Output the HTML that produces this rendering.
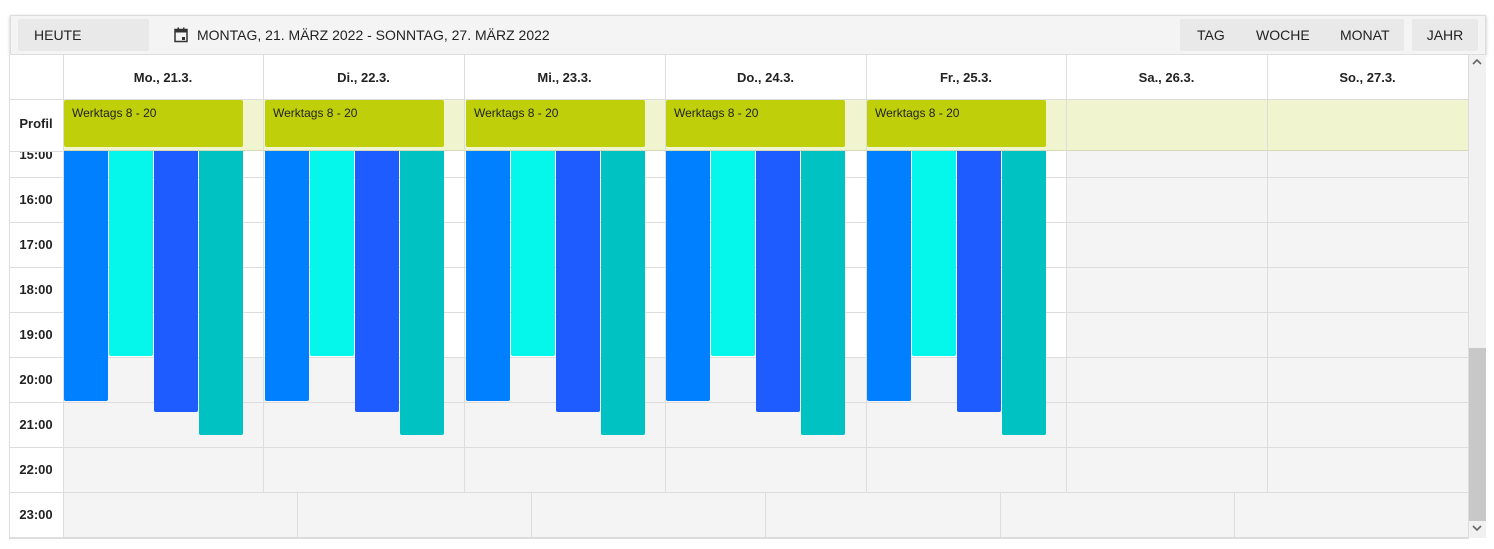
<!DOCTYPE html>
<html><head><meta charset="utf-8"><style>
*{box-sizing:border-box;margin:0;padding:0}
body{width:1494px;height:549px;background:#fff;position:relative;overflow:hidden;font-family:"Liberation Sans",Arial,sans-serif;color:#222}
.a{position:absolute}
.tb{left:10px;top:15px;width:1476px;height:40px;background:#f4f4f4;border:1px solid #ddd;box-shadow:0 1px 3px rgba(0,0,0,.25)}
.btn{position:absolute;top:3px;height:32px;background:#e9e9e9;font-size:14px;line-height:32px;color:#222;border-radius:2px}
.vl{position:absolute;width:1px;background:#ddd}
.t{position:absolute;left:9px;width:54px;text-align:center;font-size:13px;font-weight:bold;line-height:45px}
.dh{position:absolute;top:56px;height:43px;line-height:43px;text-align:center;font-size:13px;font-weight:bold}
.ev{position:absolute;top:100px;width:179px;height:47px;background:#bfd00b;border-radius:2px;font-size:12px;padding:6px 8px}
.b{position:absolute;top:151px;width:44px;border-radius:0 0 2px 2px}
</style></head><body>
<div class="a tb">
 <div class="btn" style="left:7px;width:131px;padding-left:16px">HEUTE</div>
 <svg class="a" style="left:163px;top:11px" width="14" height="16" viewBox="0 0 14 16"><rect x="1" y="2.5" width="12" height="12" fill="none" stroke="#333" stroke-width="1.5"/><rect x="1" y="2.5" width="12" height="3" fill="#333"/><rect x="3.5" y="0.5" width="1.5" height="3" fill="#333"/><rect x="9" y="0.5" width="1.5" height="3" fill="#333"/><rect x="8" y="10" width="3" height="3" fill="#333"/></svg>
 <div class="a" style="left:186px;top:3px;line-height:32px;font-size:14px">MONTAG, 21. MÄRZ 2022 - SONNTAG, 27. MÄRZ 2022</div>
 <div class="btn" style="left:1169px;width:224px"></div>
 <div class="a" style="left:1186px;top:3px;line-height:32px;font-size:14px">TAG</div>
 <div class="a" style="left:1245px;top:3px;line-height:32px;font-size:14px">WOCHE</div>
 <div class="a" style="left:1329px;top:3px;line-height:32px;font-size:14px">MONAT</div>
 <div class="btn" style="left:1401px;width:66px;text-align:center">JAHR</div>
</div>
<div class="a" style="left:9px;top:55px;width:1460px;height:483px;background:#fff;border-left:1px solid #ddd"></div>
<div class="a" style="left:63px;top:99px;width:1405px;height:52px;background:#f0f5cf;border-top:1px solid #ddd;border-bottom:1px solid #d6dbb5"></div>
<div class="a" style="left:63px;top:357px;width:1005px;height:180px;background:#f4f4f4"></div>
<div class="a" style="left:1066px;top:151px;width:402px;height:386px;background:#f4f4f4"></div>
<div class="a" style="left:9px;top:537px;width:1460px;height:2px;background:#ddd"></div>
<div class="a" style="left:9px;top:99px;width:54px;height:1px;background:#ddd"></div>
<div class="a" style="left:9px;top:151px;width:54px;height:1px;background:#ddd"></div>
<div class="a" style="left:9px;top:177px;width:1459px;height:1px;background:#ddd"></div>
<div class="a" style="left:9px;top:222px;width:1459px;height:1px;background:#ddd"></div>
<div class="a" style="left:9px;top:267px;width:1459px;height:1px;background:#ddd"></div>
<div class="a" style="left:9px;top:312px;width:1459px;height:1px;background:#ddd"></div>
<div class="a" style="left:9px;top:357px;width:1459px;height:1px;background:#ddd"></div>
<div class="a" style="left:9px;top:402px;width:1459px;height:1px;background:#ddd"></div>
<div class="a" style="left:9px;top:447px;width:1459px;height:1px;background:#ddd"></div>
<div class="a" style="left:9px;top:492px;width:1459px;height:1px;background:#ddd"></div>
<div class="vl" style="left:63px;top:55px;height:482px"></div>
<div class="vl" style="left:263px;top:55px;height:437px"></div>
<div class="vl" style="left:464px;top:55px;height:437px"></div>
<div class="vl" style="left:665px;top:55px;height:437px"></div>
<div class="vl" style="left:866px;top:55px;height:437px"></div>
<div class="vl" style="left:1066px;top:55px;height:437px"></div>
<div class="vl" style="left:1267px;top:55px;height:437px"></div>
<div class="vl" style="left:1468px;top:55px;height:482px"></div>
<div class="vl" style="left:297px;top:492px;height:45px"></div>
<div class="vl" style="left:531px;top:492px;height:45px"></div>
<div class="vl" style="left:765px;top:492px;height:45px"></div>
<div class="vl" style="left:1000px;top:492px;height:45px"></div>
<div class="vl" style="left:1234px;top:492px;height:45px"></div>
<div class="dh" style="left:63px;width:200px">Mo., 21.3.</div>
<div class="dh" style="left:263px;width:201px">Di., 22.3.</div>
<div class="dh" style="left:464px;width:201px">Mi., 23.3.</div>
<div class="dh" style="left:665px;width:201px">Do., 24.3.</div>
<div class="dh" style="left:866px;width:200px">Fr., 25.3.</div>
<div class="dh" style="left:1066px;width:201px">Sa., 26.3.</div>
<div class="dh" style="left:1267px;width:201px">So., 27.3.</div>
<div class="a" style="left:9px;top:100px;width:54px;line-height:48px;text-align:center;font-size:13px;font-weight:bold">Profil</div>
<div class="t" style="top:152px;height:25px;overflow:hidden"><div style="margin-top:-20px">15:00</div></div>
<div class="t" style="top:177px">16:00</div>
<div class="t" style="top:222px">17:00</div>
<div class="t" style="top:267px">18:00</div>
<div class="t" style="top:312px">19:00</div>
<div class="t" style="top:357px">20:00</div>
<div class="t" style="top:402px">21:00</div>
<div class="t" style="top:447px">22:00</div>
<div class="t" style="top:492px">23:00</div>
<div class="ev" style="left:64px">Werktags 8 - 20</div>
<div class="ev" style="left:265px">Werktags 8 - 20</div>
<div class="ev" style="left:466px">Werktags 8 - 20</div>
<div class="ev" style="left:666px">Werktags 8 - 20</div>
<div class="ev" style="left:867px">Werktags 8 - 20</div>
<div class="b" style="left:64px;height:250px;background:#007fff"></div><div class="b" style="left:109px;height:205px;background:#05f7eb"></div><div class="b" style="left:154px;height:261px;background:#1f5cff"></div><div class="b" style="left:199px;height:284px;background:#00c2c2"></div>
<div class="b" style="left:265px;height:250px;background:#007fff"></div><div class="b" style="left:310px;height:205px;background:#05f7eb"></div><div class="b" style="left:355px;height:261px;background:#1f5cff"></div><div class="b" style="left:400px;height:284px;background:#00c2c2"></div>
<div class="b" style="left:466px;height:250px;background:#007fff"></div><div class="b" style="left:511px;height:205px;background:#05f7eb"></div><div class="b" style="left:556px;height:261px;background:#1f5cff"></div><div class="b" style="left:601px;height:284px;background:#00c2c2"></div>
<div class="b" style="left:666px;height:250px;background:#007fff"></div><div class="b" style="left:711px;height:205px;background:#05f7eb"></div><div class="b" style="left:756px;height:261px;background:#1f5cff"></div><div class="b" style="left:801px;height:284px;background:#00c2c2"></div>
<div class="b" style="left:867px;height:250px;background:#007fff"></div><div class="b" style="left:912px;height:205px;background:#05f7eb"></div><div class="b" style="left:957px;height:261px;background:#1f5cff"></div><div class="b" style="left:1002px;height:284px;background:#00c2c2"></div>
<div class="a" style="left:1469px;top:55px;width:17px;height:483px;background:#f1f1f1"></div>
<div class="a" style="left:1469px;top:348px;width:17px;height:173px;background:#c8c8c8"></div>
<svg class="a" style="left:1472px;top:58px" width="10" height="8"><path d="M1 6 L5 2 L9 6" fill="none" stroke="#666" stroke-width="1.6"/></svg>
<svg class="a" style="left:1472px;top:524px" width="10" height="8"><path d="M1 2 L5 6 L9 2" fill="none" stroke="#666" stroke-width="1.6"/></svg>
</body></html>
